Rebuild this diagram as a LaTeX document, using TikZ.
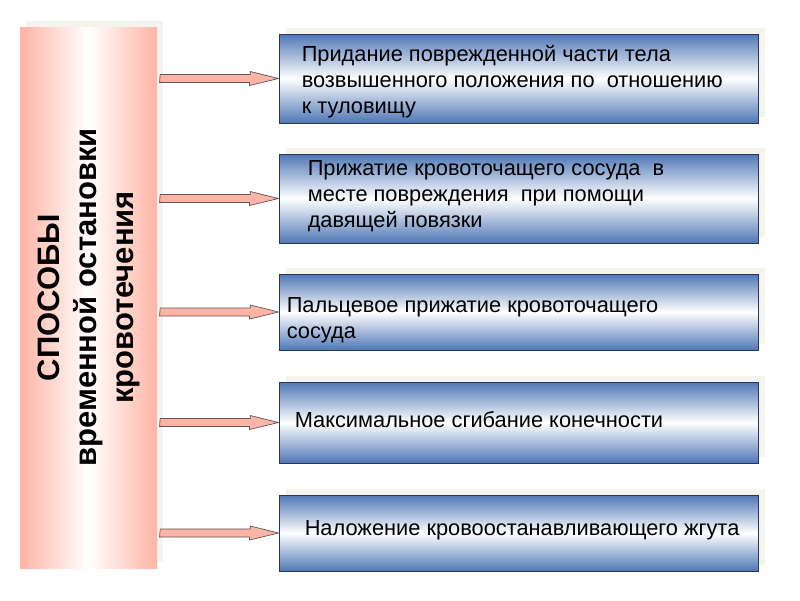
\documentclass[tikz,border=0pt]{standalone}
\usepackage{fontspec}
\setmainfont{Liberation Sans}
\usepackage{tikz}
\usetikzlibrary{calc, shadows}
\definecolor{salmon}{RGB}{255, 180, 165}
\definecolor{steel}{RGB}{79, 119, 182}
\definecolor{navy}{RGB}{38, 55, 90}
\definecolor{haze}{RGB}{245, 243, 238}
\definecolor{tipline}{RGB}{95, 85, 85}

\begin{document}
\begin{tikzpicture}[x=1pt, y=-1pt,
    pinkbox/.style={rectangle, draw=none, left color=salmon, right color=salmon, middle color=white,
      general shadow={fill=haze, shadow xshift=6pt, shadow yshift=6pt}},
    bluebox/.style={rectangle, draw=navy, line width=0.9pt, top color=steel, bottom color=steel, middle color=white,
      minimum width=479pt, general shadow={fill=haze, shadow xshift=7pt, shadow yshift=6pt}},
    boxtext/.style={anchor=west, align=left, inner sep=0pt, font=\fontsize{21.8}{26}\selectfont},
    blockarrow/.style={draw=tipline, line width=0.7pt, fill=salmon, line join=miter}]
  \useasboundingbox (0, 0) rectangle (800, 600);

  % left column
  \node[pinkbox, minimum width=137pt, minimum height=541pt] (lb) at (88.5, 297.5) {};
  \node[rotate=90, align=center, font=\fontsize{31}{37}\selectfont\bfseries] (title) at (lb.center)
    {СПОСОБЫ\\временной остановки\\кровотечения};

  % right column
  \node[bluebox, minimum height=89pt] (r1) at (518.5, 78.5) {};
  \node[bluebox, minimum height=89pt] (r2) at (518.5, 198.5) {};
  \node[bluebox, minimum height=76pt] (r3) at (518.5, 312) {};
  \node[bluebox, minimum height=81pt] (r4) at (518.5, 422.5) {};
  \node[bluebox, minimum height=76pt] (r5) at (518.5, 533) {};

  \node[boxtext] (t1) at ([xshift=23pt, yshift=-4pt]r1.west)
    {\strut Придание поврежденной части тела\\возвышенного положения по\ \ отношению\\к туловищу\strut};
  \node[boxtext] (t2) at ([xshift=29pt, yshift=2pt]r2.west)
    {\strut Прижатие кровоточащего сосуда\ \ в\\месте повреждения\ \ при помощи\\давящей повязки\strut};
  \node[boxtext] (t3) at ([xshift=8pt, yshift=-8pt]r3.west)
    {\strut Пальцевое прижатие кровоточащего\\сосуда\strut};
  \node[boxtext] (t4) at ([xshift=16pt]r4.west)
    {\strut Максимальное сгибание конечности\strut};
  \node[boxtext] (t5) at ([xshift=26pt, yshift=3pt]r5.west)
    {\strut Наложение кровоостанавливающего жгута\strut};

  % arrows
  \foreach \i in {1,...,5}
    \draw[blockarrow] ($(lb.east |- r\i.west)+(3,-4)$) -- ++(90,0) -- ++(0,-3) -- (r\i.west)
      -- ++(-29,7) -- ++(0,-3) -- ++(-90,0) -- cycle;
\end{tikzpicture}
\end{document}
